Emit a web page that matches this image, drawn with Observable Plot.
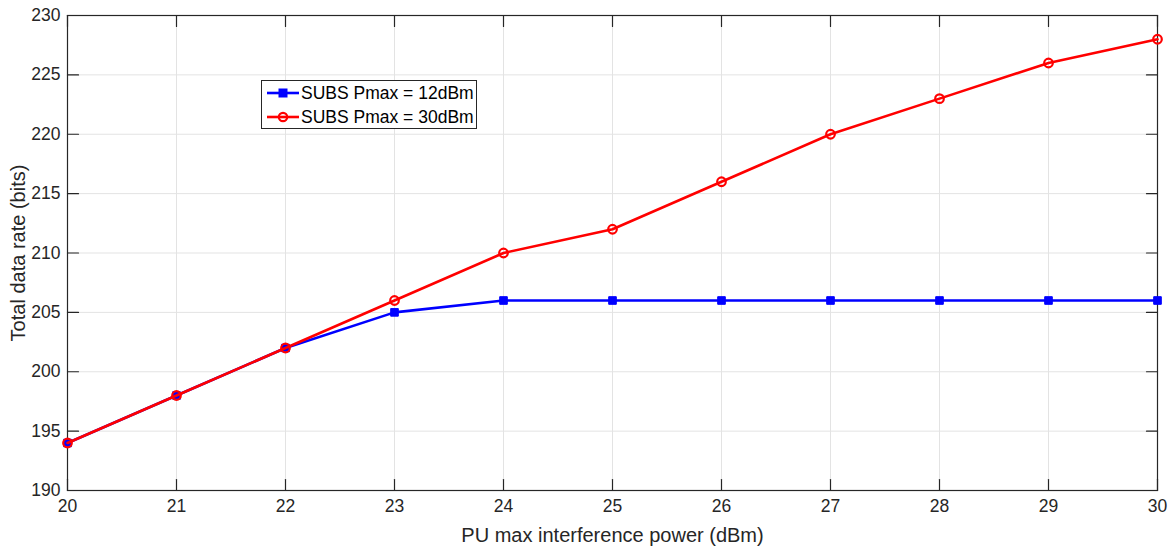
<!DOCTYPE html>
<html>
<head>
<meta charset="utf-8">
<script src="https://cdn.jsdelivr.net/npm/d3@7"></script>
<script src="https://cdn.jsdelivr.net/npm/@observablehq/plot@0.6"></script>
<style>
  html, body { margin: 0; padding: 0; background: #fff; }
  #wrap { position: relative; width: 1172px; height: 547px; font-family: "Liberation Sans", Arial, sans-serif; }
  #legend { position: absolute; left: 261px; top: 80px; width: 214px; height: 47px; border: 1px solid #262626; background: #fff; font-size: 17.5px; color: #000; }
  #legend .row { position: absolute; left: 5px; height: 22px; display: flex; align-items: center; }
  #legend svg { display: block; }
  #legend span { margin-left: 2px; white-space: nowrap; }
</style>
</head>
<body>
<div id="wrap"></div>
<script>
const xValues = [20, 21, 22, 23, 24, 25, 26, 27, 28, 29, 30];
const blueValues = [194, 198, 202, 205, 206, 206, 206, 206, 206, 206, 206];
const redValues = [194, 198, 202, 206, 210, 212, 216, 220, 223, 226, 228];
const seriesNames = ["SUBS Pmax = 12dBm", "SUBS Pmax = 30dBm"];
const xLabel = "PU max interference power (dBm)";
const yLabel = "Total data rate (bits)";
const xTicks = [20, 21, 22, 23, 24, 25, 26, 27, 28, 29, 30];
const yTicks = [190, 195, 200, 205, 210, 215, 220, 225, 230];

const blue = xValues.map((x, i) => ({x, y: blueValues[i]}));
const red = xValues.map((x, i) => ({x, y: redValues[i]}));

const axisColor = "#262626";
const tickShape = {draw(context, l) { context.moveTo(0, 0); context.lineTo(0, -l); }};
const tick = (data, opts) => Plot.vector(data, {length: 11, anchor: "start", shape: tickShape, stroke: axisColor, strokeWidth: 1.2, ...opts});

const chart = Plot.plot({
  width: 1172,
  height: 547,
  marginLeft: 67,
  marginRight: 15,
  marginTop: 15,
  marginBottom: 57,
  style: {fontFamily: "Liberation Sans, Arial, sans-serif", fontSize: "17.5px", color: axisColor, background: "#fff", overflow: "visible"},
  x: {domain: [20, 30]},
  y: {domain: [190, 230]},
  marks: [
    Plot.gridX(xTicks, {stroke: "#e3e3e3", strokeOpacity: 1}),
    Plot.gridY(yTicks, {stroke: "#e3e3e3", strokeOpacity: 1}),
    Plot.axisX(xTicks, {tickSize: 0, tickPadding: 9, label: null, fontSize: 17.5, fill: axisColor, tickFormat: d => String(d)}),
    Plot.axisY(yTicks, {tickSize: 0, tickPadding: 7, label: null, fontSize: 17.5, fill: axisColor, tickFormat: d => String(d)}),
    Plot.text([xLabel], {text: d => d, frameAnchor: "bottom", textAnchor: "middle", lineAnchor: "middle", dy: 45, fontSize: 20, fill: axisColor}),
    Plot.text([yLabel], {text: d => d, frameAnchor: "left", textAnchor: "middle", lineAnchor: "middle", rotate: -90, dx: -49, fontSize: 20, fill: axisColor}),
    tick(xTicks, {x: d => d, frameAnchor: "bottom", rotate: 0}),
    tick(xTicks, {x: d => d, frameAnchor: "top", rotate: 180}),
    tick(yTicks, {y: d => d, frameAnchor: "left", rotate: 90}),
    tick(yTicks, {y: d => d, frameAnchor: "right", rotate: -90}),
    Plot.frame({stroke: axisColor, strokeWidth: 1.2}),
    Plot.line(blue, {x: "x", y: "y", stroke: "#0000ff", strokeWidth: 2.6}),
    Plot.dot(blue, {x: "x", y: "y", symbol: "square", r: 4.3, fill: "#0000ff", stroke: "#0000ff", strokeWidth: 1}),
    Plot.line(red, {x: "x", y: "y", stroke: "#ff0000", strokeWidth: 2.6}),
    Plot.dot(red, {x: "x", y: "y", symbol: "circle", r: 4.3, fill: "none", stroke: "#ff0000", strokeWidth: 2.2})
  ]
});

const wrap = document.getElementById("wrap");
wrap.appendChild(chart);

const legend = document.createElement("div");
legend.id = "legend";
const swatches = [
  {color: "#0000ff", shape: "square"},
  {color: "#ff0000", shape: "circle"}
];
seriesNames.forEach((name, i) => {
  const row = document.createElement("div");
  row.className = "row";
  row.style.top = (1 + i * 24) + "px";
  const s = swatches[i];
  const marker = s.shape === "square"
    ? `<rect x="12" y="7" width="8" height="8" fill="${s.color}" stroke="${s.color}"/>`
    : `<circle cx="16" cy="11" r="4.2" fill="none" stroke="${s.color}" stroke-width="2.2"/>`;
  row.innerHTML = `<svg width="32" height="22"><line x1="0" y1="11" x2="32" y2="11" stroke="${s.color}" stroke-width="2.6"/>${marker}</svg><span>${name}</span>`;
  legend.appendChild(row);
});
wrap.appendChild(legend);
</script>
</body>
</html>
